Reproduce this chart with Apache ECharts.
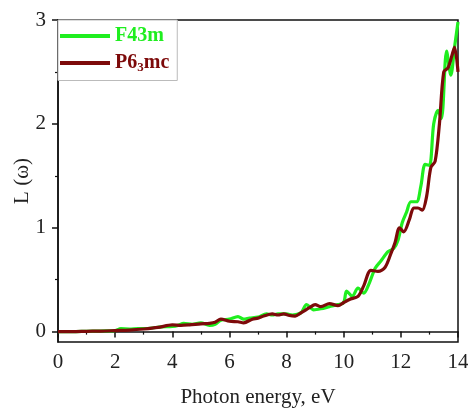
<!DOCTYPE html>
<html>
<head>
<meta charset="utf-8">
<script src="https://cdn.jsdelivr.net/npm/echarts@6/dist/echarts.min.js"></script>
<style>
  html, body { margin: 0; padding: 0; background: #fff; }
  #chart { width: 468px; height: 409px; }
</style>
</head>
<body>
<div id="chart"></div>
<script>
// Loss function L(ω) versus photon energy for the two polymorphs
const energyF43m = [0, 0.5, 1, 1.5, 2, 2.2, 2.5, 2.8, 3.0, 3.3, 3.6, 4.0, 4.2, 4.4, 4.7, 5.0, 5.3, 5.5, 5.7, 6.0,
  6.3, 6.5, 6.7, 7.0, 7.3, 7.5, 7.7, 8.0, 8.2, 8.5, 8.7, 8.95, 9.2, 9.5, 9.8, 10.0, 10.1, 10.3, 10.5, 10.7,
  10.9, 11.1, 11.3, 11.55, 11.75, 11.9, 12.05, 12.2, 12.35, 12.55, 12.7, 12.85, 13.0, 13.15, 13.3, 13.42,
  13.6, 13.75, 13.88, 14.0];
const lossF43m = [0, 0, 0.003, 0.006, 0.01, 0.028, 0.025, 0.03, 0.03, 0.035, 0.045, 0.05, 0.06, 0.08, 0.07, 0.085, 0.06, 0.07, 0.11, 0.12,
  0.145, 0.12, 0.13, 0.14, 0.17, 0.16, 0.17, 0.17, 0.16, 0.18, 0.26, 0.21, 0.22, 0.24, 0.26, 0.28, 0.39, 0.34, 0.42, 0.37,
  0.47, 0.61, 0.68, 0.77, 0.80, 0.88, 1.05, 1.15, 1.25, 1.25, 1.4, 1.61, 1.6, 2.0, 2.13, 2.05,
  2.7, 2.47, 2.74, 2.98];

const energyP63mc = [0, 0.5, 1, 1.5, 2, 2.5, 3, 3.5, 4.0, 4.3, 4.6, 5.0, 5.3, 5.5, 5.7, 6.0, 6.3, 6.5, 6.8, 7.0,
  7.2, 7.5, 7.7, 7.9, 8.1, 8.3, 8.5, 8.8, 9.0, 9.2, 9.5, 9.8, 10.0, 10.2, 10.5, 10.7, 10.95, 11.2, 11.45, 11.65,
  11.8, 11.95, 12.1, 12.3, 12.45, 12.6, 12.75, 12.9, 13.05, 13.2, 13.35, 13.5, 13.65, 13.78, 13.88, 14.0];
const lossP63mc = [0, 0, 0.003, 0.005, 0.01, 0.015, 0.025, 0.04, 0.065, 0.06, 0.065, 0.075, 0.08, 0.09, 0.12, 0.10, 0.095, 0.085, 0.12, 0.13,
  0.15, 0.17, 0.16, 0.17, 0.155, 0.15, 0.18, 0.23, 0.26, 0.24, 0.27, 0.25, 0.28, 0.31, 0.34, 0.44, 0.59, 0.58, 0.62, 0.75,
  0.86, 1.0, 0.96, 1.08, 1.19, 1.19, 1.17, 1.3, 1.58, 1.64, 2.0, 2.5, 2.54, 2.65, 2.74, 2.5];

const xTicks = [0, 2, 4, 6, 8, 10, 12, 14];
const yTicks = [0, 1, 2, 3];
const yMinorTicks = [0.5, 1.5, 2.5];

const GREEN = '#1fee1f';
const DARKRED = '#7d0a0a';
const FONT = '"Liberation Serif", "Times New Roman", serif';

const pairs = (xs, ys) => xs.map((x, i) => [x, ys[i]]);

const chart = echarts.init(document.getElementById('chart'), null, { renderer: 'canvas' });

const axisLine = { show: true, lineStyle: { color: '#111', width: 1.5 } };

chart.setOption({
  animation: false,
  backgroundColor: '#fff',
  grid: {
    left: 58, right: 10, top: 20, bottom: 67,
    containLabel: false,
    outerBoundsMode: 'none',
    show: true, borderColor: '#111', borderWidth: 1.5, backgroundColor: 'transparent'
  },
  legend: {
    orient: 'vertical',
    left: 58, top: 20,
    padding: [6, 8, 6, 2],
    itemGap: 7,
    itemWidth: 50,
    itemHeight: 4,
    icon: 'rect',
    borderColor: '#bbb',
    borderWidth: 1,
    backgroundColor: '#fff',
    data: [
      { name: 'F43m', textStyle: { color: GREEN } },
      { name: 'P63mc', textStyle: { color: DARKRED } }
    ],
    formatter: function (name) {
      return name === 'P63mc' ? '{b|P6}{s|3}{b|mc}' : '{g|F43m}';
    },
    textStyle: {
      fontFamily: FONT, fontWeight: 'bold', fontSize: 20,
      rich: {
        g: { color: GREEN, fontFamily: FONT, fontWeight: 'bold', fontSize: 20 },
        b: { color: DARKRED, fontFamily: FONT, fontWeight: 'bold', fontSize: 20 },
        s: { color: DARKRED, fontFamily: FONT, fontWeight: 'bold', fontSize: 13, padding: [10, 0, 0, 0] }
      }
    }
  },
  xAxis: {
    type: 'value',
    min: 0, max: 14, interval: 2,
    name: 'Photon energy, eV',
    nameLocation: 'middle',
    nameGap: 45,
    nameMoveOverlap: false,
    nameTextStyle: { fontFamily: FONT, fontSize: 21, color: '#222' },
    axisLine: axisLine,
    axisTick: { show: true, inside: false, length: 6, lineStyle: { color: '#111', width: 1.5 } },
    minorTick: { show: true, splitNumber: 2, length: 3, lineStyle: { color: '#111', width: 1.2 } },
    axisLabel: {
      fontFamily: FONT, fontSize: 21, color: '#222', margin: 10,
      formatter: v => xTicks.includes(v) ? String(v) : ''
    },
    splitLine: { show: false }
  },
  yAxis: [
    {
      type: 'value',
      min: -0.1, max: 3,
      name: 'L (ω)',
      nameLocation: 'middle',
      nameGap: 25,
      nameMoveOverlap: false,
      nameTextStyle: { fontFamily: FONT, fontSize: 21, color: '#222' },
      axisLine: axisLine,
      axisTick: { show: true, length: 6, customValues: yTicks, lineStyle: { color: '#111', width: 1.5 } },
      axisLabel: { fontFamily: FONT, fontSize: 21, color: '#222', margin: 12, customValues: yTicks },
      splitLine: { show: false }
    },
    {
      type: 'value',
      position: 'left',
      min: -0.1, max: 3,
      axisLine: { show: false },
      axisTick: { show: true, length: 3, customValues: yMinorTicks, lineStyle: { color: '#111', width: 1.2 } },
      axisLabel: { show: false },
      splitLine: { show: false }
    }
  ],
  series: [
    {
      name: 'F43m', type: 'line', data: pairs(energyF43m, lossF43m),
      showSymbol: false, smooth: 0.3, clip: true,
      lineStyle: { color: GREEN, width: 3.2 }, itemStyle: { color: GREEN }, z: 2
    },
    {
      name: 'P63mc', type: 'line', data: pairs(energyP63mc, lossP63mc),
      showSymbol: false, smooth: 0.3, clip: true,
      lineStyle: { color: DARKRED, width: 3.2 }, itemStyle: { color: DARKRED }, z: 3
    }
  ]
});
</script>
</body>
</html>
